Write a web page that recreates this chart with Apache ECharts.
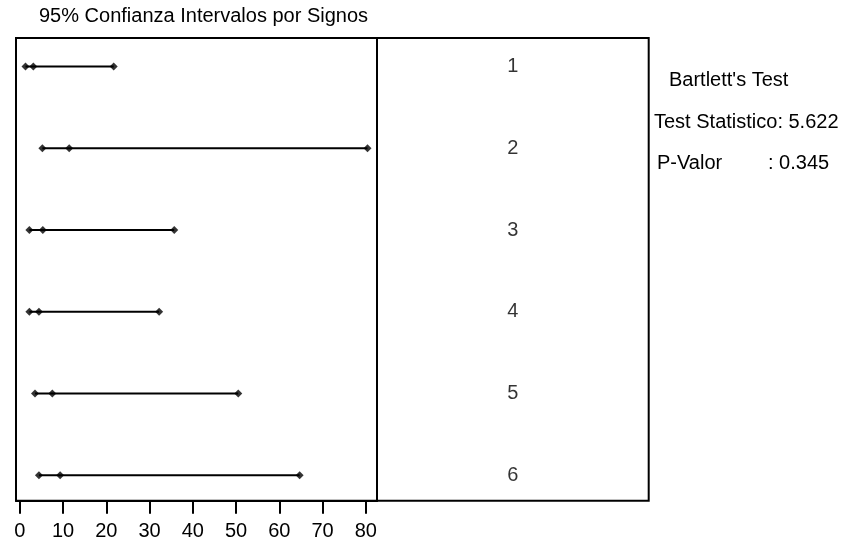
<!DOCTYPE html>
<html>
<head>
<meta charset="utf-8">
<script src="https://cdn.jsdelivr.net/npm/echarts@6/dist/echarts.min.js"></script>
<style>html,body{margin:0;padding:0;background:#fff}#c{width:851px;height:542px}</style>
</head>
<body>
<div id="c"></div>
<script>
var categories = ['1', '2', '3', '4', '5', '6'];
var lowerVals = [1.3, 5.2, 2.2, 2.2, 3.5, 4.4];
var centerVals = [3.1, 11.4, 5.3, 4.4, 7.5, 9.3];
var upperVals = [21.7, 80.4, 35.7, 32.2, 50.5, 64.7];
var xTicks = [0, 10, 20, 30, 40, 50, 60, 70, 80];
var titleText = '95% Confianza Intervalos por Signos';
var testLines = ["Bartlett's Test", 'Test Statistico: 5.622', 'P-Valor', ': 0.345'];

var FONT = '"Liberation Sans", Arial, Helvetica, sans-serif';
var chart = echarts.init(document.getElementById('c'), null, {renderer: 'canvas'});

var series = [];
categories.forEach(function (c, i) {
  series.push({
    type: 'line', xAxisIndex: 0, yAxisIndex: 0,
    data: [[lowerVals[i], i + 1], [upperVals[i], i + 1]],
    symbol: 'none', silent: true, animation: false,
    lineStyle: {color: '#000', width: 2}
  });
});
var pts = [];
categories.forEach(function (c, i) {
  pts.push([lowerVals[i], i + 1]);
  pts.push([centerVals[i], i + 1]);
  pts.push([upperVals[i], i + 1]);
});
series.push({
  type: 'scatter', xAxisIndex: 0, yAxisIndex: 0, data: pts,
  symbol: 'diamond', symbolSize: 8, itemStyle: {color: '#000'}, animation: false, z: 5
});
series.push({
  type: 'scatter', xAxisIndex: 1, yAxisIndex: 1,
  data: categories.map(function (c, i) { return {value: [0.5, i + 1], name: c}; }),
  symbolSize: 0, animation: false,
  label: {show: true, position: 'inside', formatter: '{b}', color: '#000', fontSize: 20, fontFamily: FONT}
});

var option = {
  backgroundColor: '#fff',
  animation: false,
  grid: [
    {left: 16, right: 474, top: 38, bottom: 41.3, show: true, borderColor: '#000', borderWidth: 2, backgroundColor: 'transparent'},
    {left: 377, right: 202.3, top: 38, bottom: 41.3, show: true, borderColor: '#000', borderWidth: 2, backgroundColor: 'transparent'}
  ],
  xAxis: [
    {type: 'value', gridIndex: 0, min: -0.9, max: 82.6,
     axisLine: {show: true, lineStyle: {color: '#000', width: 2}}, splitLine: {show: false},
     axisTick: {show: true, customValues: xTicks, length: 13, lineStyle: {color: '#000', width: 2}},
     axisLabel: {show: true, customValues: xTicks, color: '#000', fontSize: 20, fontFamily: FONT, margin: 21}},
    {type: 'value', gridIndex: 1, min: 0, max: 1, show: false}
  ],
  yAxis: [
    {type: 'value', gridIndex: 0, inverse: true, min: 0.65, max: 6.31, show: false},
    {type: 'value', gridIndex: 1, inverse: true, min: 0.65, max: 6.31, show: false}
  ],
  graphic: [
    {type: 'text', left: 39, top: 6, style: {text: titleText, fill: '#000', fontSize: 20, fontFamily: FONT}},
    {type: 'text', left: 669, top: 70, style: {text: testLines[0], fill: '#000', fontSize: 20, fontFamily: FONT}},
    {type: 'text', left: 654, top: 112, style: {text: testLines[1], fill: '#000', fontSize: 20, fontFamily: FONT}},
    {type: 'text', left: 657, top: 153, style: {text: testLines[2], fill: '#000', fontSize: 20, fontFamily: FONT}},
    {type: 'text', left: 768, top: 153, style: {text: testLines[3], fill: '#000', fontSize: 20, fontFamily: FONT}}
  ],
  series: series
};
chart.setOption(option);
</script>
</body>
</html>
